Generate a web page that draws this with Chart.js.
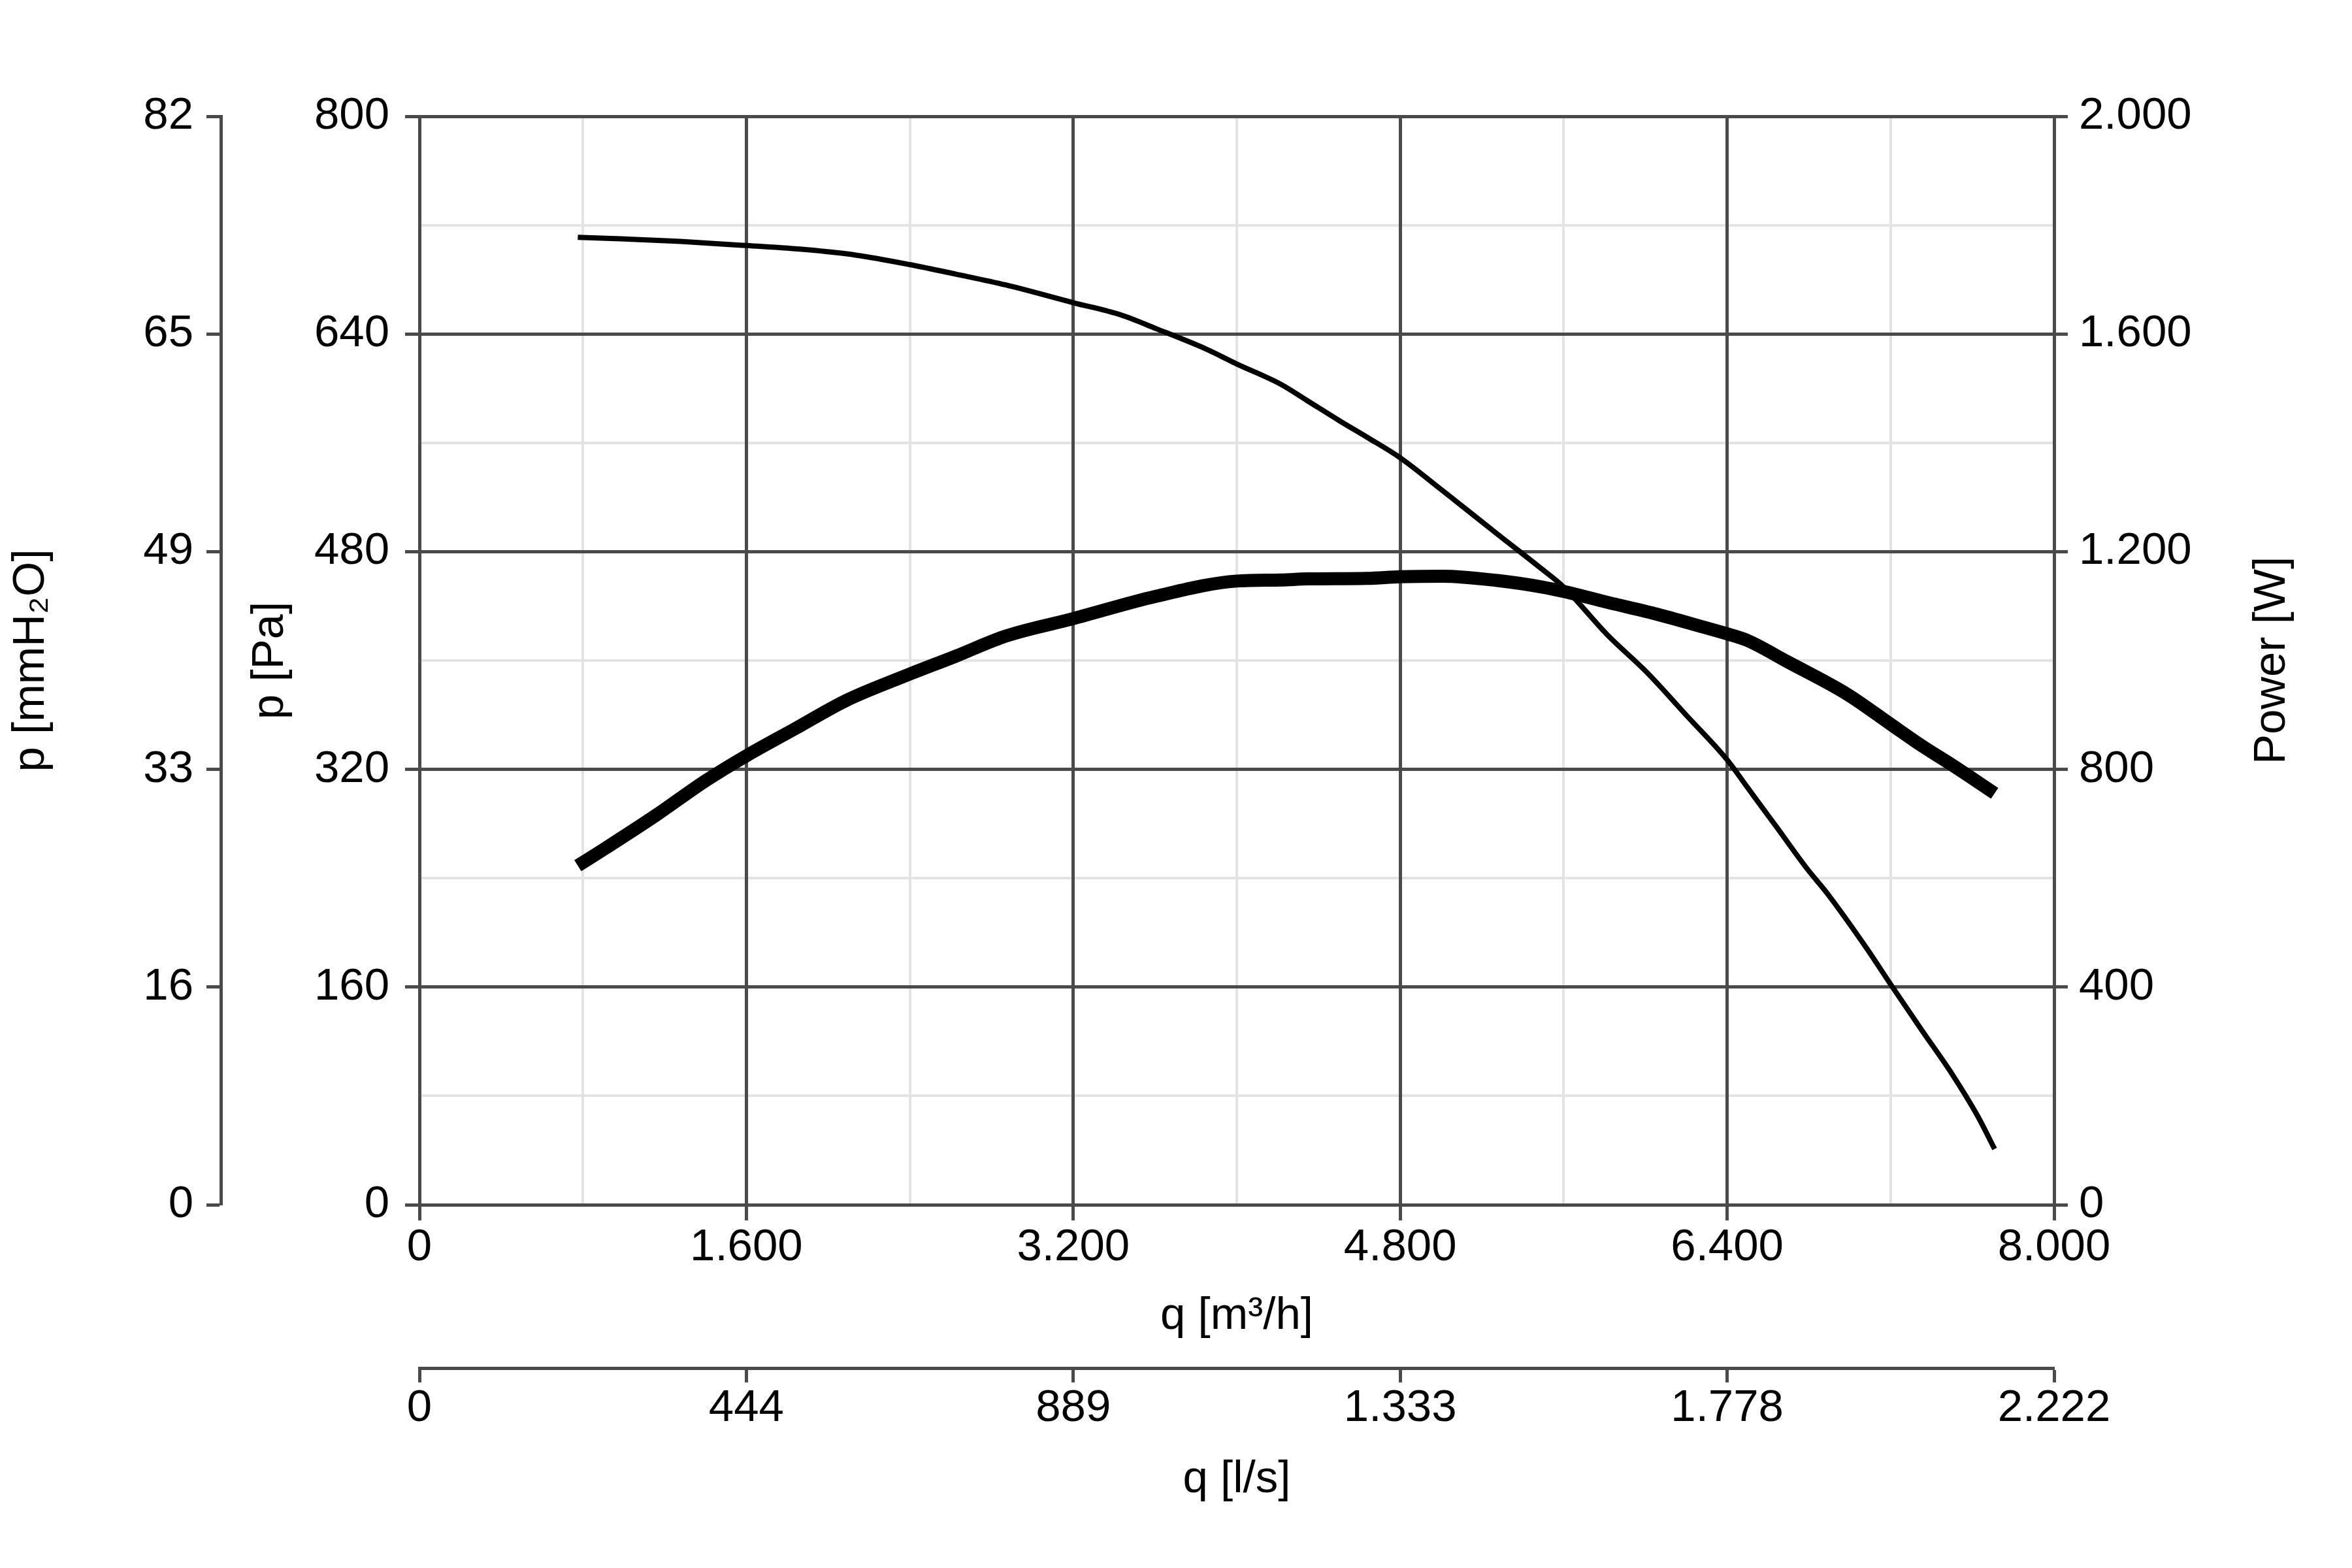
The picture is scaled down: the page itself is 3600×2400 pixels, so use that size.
<html>
<head>
<meta charset="utf-8">
<script src="https://cdn.jsdelivr.net/npm/chart.js@4.4.1/dist/chart.umd.min.js"></script>
<style>
  body { margin: 0; background: #fff; }
  canvas { display: block; }
</style>
</head>
<body>
<canvas id="fan" width="3600" height="2400"></canvas>

<script>
// measured curve points, q in m3/h
var qPressure = [775, 984, 1278, 1600, 1890, 2135, 2400, 2625, 2870, 3200, 3433, 3604, 3849, 4000, 4216, 4345, 4505, 4639, 4800, 5006, 5275, 5495, 5600, 5813, 6009, 6205, 6400, 6498, 6645, 6791, 6889, 7085, 7200, 7354, 7501, 7623, 7709];
var pressurePa = [711, 710, 708, 705, 702, 698, 691, 684, 676, 663, 654, 644, 629, 618, 603, 591, 576, 564, 549, 525, 493, 467, 454, 419, 391, 359, 327, 307, 277, 247, 229, 188, 162, 128, 96, 66, 41];

var qPower = [775, 910, 1155, 1400, 1600, 1840, 2085, 2379, 2625, 2870, 3200, 3604, 4000, 4216, 4345, 4639, 4800, 5006, 5275, 5495, 5600, 5813, 6058, 6278, 6400, 6498, 6694, 6988, 7200, 7354, 7501, 7709];
var powerW = [623, 655, 715, 779, 825, 875, 926, 972, 1008, 1045, 1077, 1118, 1146, 1148, 1150, 1151, 1154, 1155, 1147, 1135, 1127, 1107, 1085, 1062, 1049, 1037, 998, 938, 883, 843, 808, 756];

// axes
var qMinor = [800, 2400, 4000, 5600, 7200];
var qMajor = [0, 1600, 3200, 4800, 6400, 8000];
var qLabels = ['0', '1.600', '3.200', '4.800', '6.400', '8.000'];
var lsLabels = ['0', '444', '889', '1.333', '1.778', '2.222'];

var paMinor = [80, 240, 400, 560, 720];
var paMajor = [0, 160, 320, 480, 640, 800];
var paLabels = ['0', '160', '320', '480', '640', '800'];
var mmLabels = ['0', '16', '33', '49', '65', '82'];

var wMajor = [0, 400, 800, 1200, 1600, 2000];
var wLabels = ['0', '400', '800', '1.200', '1.600', '2.000'];

var FONT = 'Liberation Sans';
var FS = 69;
var DARK = '#4a4a4a';
var LIGHT = '#e3e3e3';

function toPoints(xs, ys) {
  return xs.map(function (x, i) { return { x: x, y: ys[i] }; });
}
function setTicks(values) {
  return function (scale) { scale.ticks = values.map(function (v) { return { value: v }; }); };
}
function labelFrom(major, labels) {
  return function (value) {
    var i = major.indexOf(value);
    return i < 0 ? '' : labels[i];
  };
}
var tickFont = { family: FONT, size: FS };

// light grid drawn first, under the dark one
function minorAxis(position, max, values) {
  return {
    type: 'linear', position: position, weight: 5, min: 0, max: max, z: -1,
    afterBuildTicks: setTicks(values),
    afterFit: function (s) { if (s.isHorizontal()) s.height = 0; else s.width = 0; },
    grid: { color: LIGHT, lineWidth: 4, drawTicks: false },
    border: { display: false },
    ticks: { display: false }
  };
}

var rightTitle = {
  id: 'rightTitle',
  afterDraw: function (chart) {
    var ctx = chart.ctx;
    var a = chart.chartArea;
    ctx.save();
    ctx.translate(chart.scales.w.right - 122, (a.top + a.bottom) / 2);
    ctx.rotate(-Math.PI / 2);
    ctx.font = FS + 'px "' + FONT + '"';
    ctx.fillStyle = '#000';
    ctx.textAlign = 'center';
    ctx.textBaseline = 'middle';
    ctx.fillText('Power [W]', 0, 0);
    ctx.restore();
  }
};

new Chart(document.getElementById('fan'), {
  type: 'line',
  data: {
    datasets: [
      {
        label: 'p',
        data: toPoints(qPressure, pressurePa),
        yAxisID: 'p',
        borderColor: '#000',
        borderWidth: 8,
        pointRadius: 0,
        cubicInterpolationMode: 'monotone',
        fill: false
      },
      {
        label: 'Power',
        data: toPoints(qPower, powerW),
        yAxisID: 'w',
        borderColor: '#000',
        borderWidth: 20,
        pointRadius: 0,
        cubicInterpolationMode: 'monotone',
        fill: false
      }
    ]
  },
  options: {
    responsive: false,
    devicePixelRatio: 1,
    animation: false,
    layout: { padding: { top: 178, left: 0, right: 0, bottom: 0 } },
    plugins: { legend: { display: false }, tooltip: { enabled: false } },
    scales: {
      xm: minorAxis('bottom', 8000, qMinor),
      pm: minorAxis('left', 800, paMinor),
      x: {
        type: 'linear', position: 'bottom', weight: 0, min: 0, max: 8000,
        afterBuildTicks: setTicks(qMajor),
        afterFit: function (s) { s.height = 250; },
        grid: { color: DARK, lineWidth: 5, tickLength: 24, tickWidth: 5, tickColor: DARK },
        border: { display: true, color: DARK, width: 5 },
        ticks: { autoSkip: false, maxRotation: 0, padding: 1, color: '#000', font: tickFont, callback: labelFrom(qMajor, qLabels) },
        title: { display: true, text: 'q [m³/h]', color: '#000', font: tickFont, padding: { top: 0, bottom: 38 } }
      },
      x2: {
        type: 'linear', position: 'bottom', weight: 1, min: 0, max: 8000,
        afterBuildTicks: setTicks(qMajor),
        afterFit: function (s) { s.height = 306; },
        grid: { drawOnChartArea: false, tickLength: 22, tickWidth: 5, tickColor: DARK },
        border: { display: true, color: DARK, width: 5 },
        ticks: { autoSkip: false, maxRotation: 0, padding: -1, color: '#000', font: tickFont, callback: labelFrom(qMajor, lsLabels) },
        title: { display: true, text: 'q [l/s]', color: '#000', font: tickFont, padding: { top: 0, bottom: 94 } }
      },
      p: {
        type: 'linear', position: 'left', weight: 0, min: 0, max: 800,
        afterBuildTicks: setTicks(paMajor),
        afterFit: function (s) { s.width = 304; },
        grid: { color: DARK, lineWidth: 5, tickLength: 22, tickWidth: 5, tickColor: DARK },
        border: { display: true, color: DARK, width: 5 },
        ticks: { autoSkip: false, padding: 24, color: '#000', font: tickFont, callback: labelFrom(paMajor, paLabels) },
        title: { display: true, text: 'p [Pa]', color: '#000', font: tickFont, padding: { top: 35, bottom: 0 } }
      },
      mm: {
        type: 'linear', position: 'left', weight: 1, min: 0, max: 800,
        afterBuildTicks: setTicks(paMajor),
        afterFit: function (s) { s.width = 338; },
        grid: { drawOnChartArea: false, tickLength: 22, tickWidth: 5, tickColor: DARK },
        border: { display: true, color: DARK, width: 5 },
        ticks: { autoSkip: false, padding: 20, color: '#000', font: tickFont, callback: labelFrom(paMajor, mmLabels) },
        title: { display: true, text: 'p [mmH₂O]', color: '#000', font: tickFont, padding: { top: 7, bottom: 0 } }
      },
      w: {
        type: 'linear', position: 'right', weight: 0, min: 0, max: 2000,
        afterBuildTicks: setTicks(wMajor),
        afterFit: function (s) { s.width = 456; },
        grid: { drawOnChartArea: false, tickLength: 21, tickWidth: 5, tickColor: DARK },
        border: { display: true, color: DARK, width: 5 },
        ticks: { autoSkip: false, padding: 17, color: '#000', font: tickFont, callback: labelFrom(wMajor, wLabels) }
      }
    }
  },
  plugins: [rightTitle]
});
</script>
</body>
</html>
